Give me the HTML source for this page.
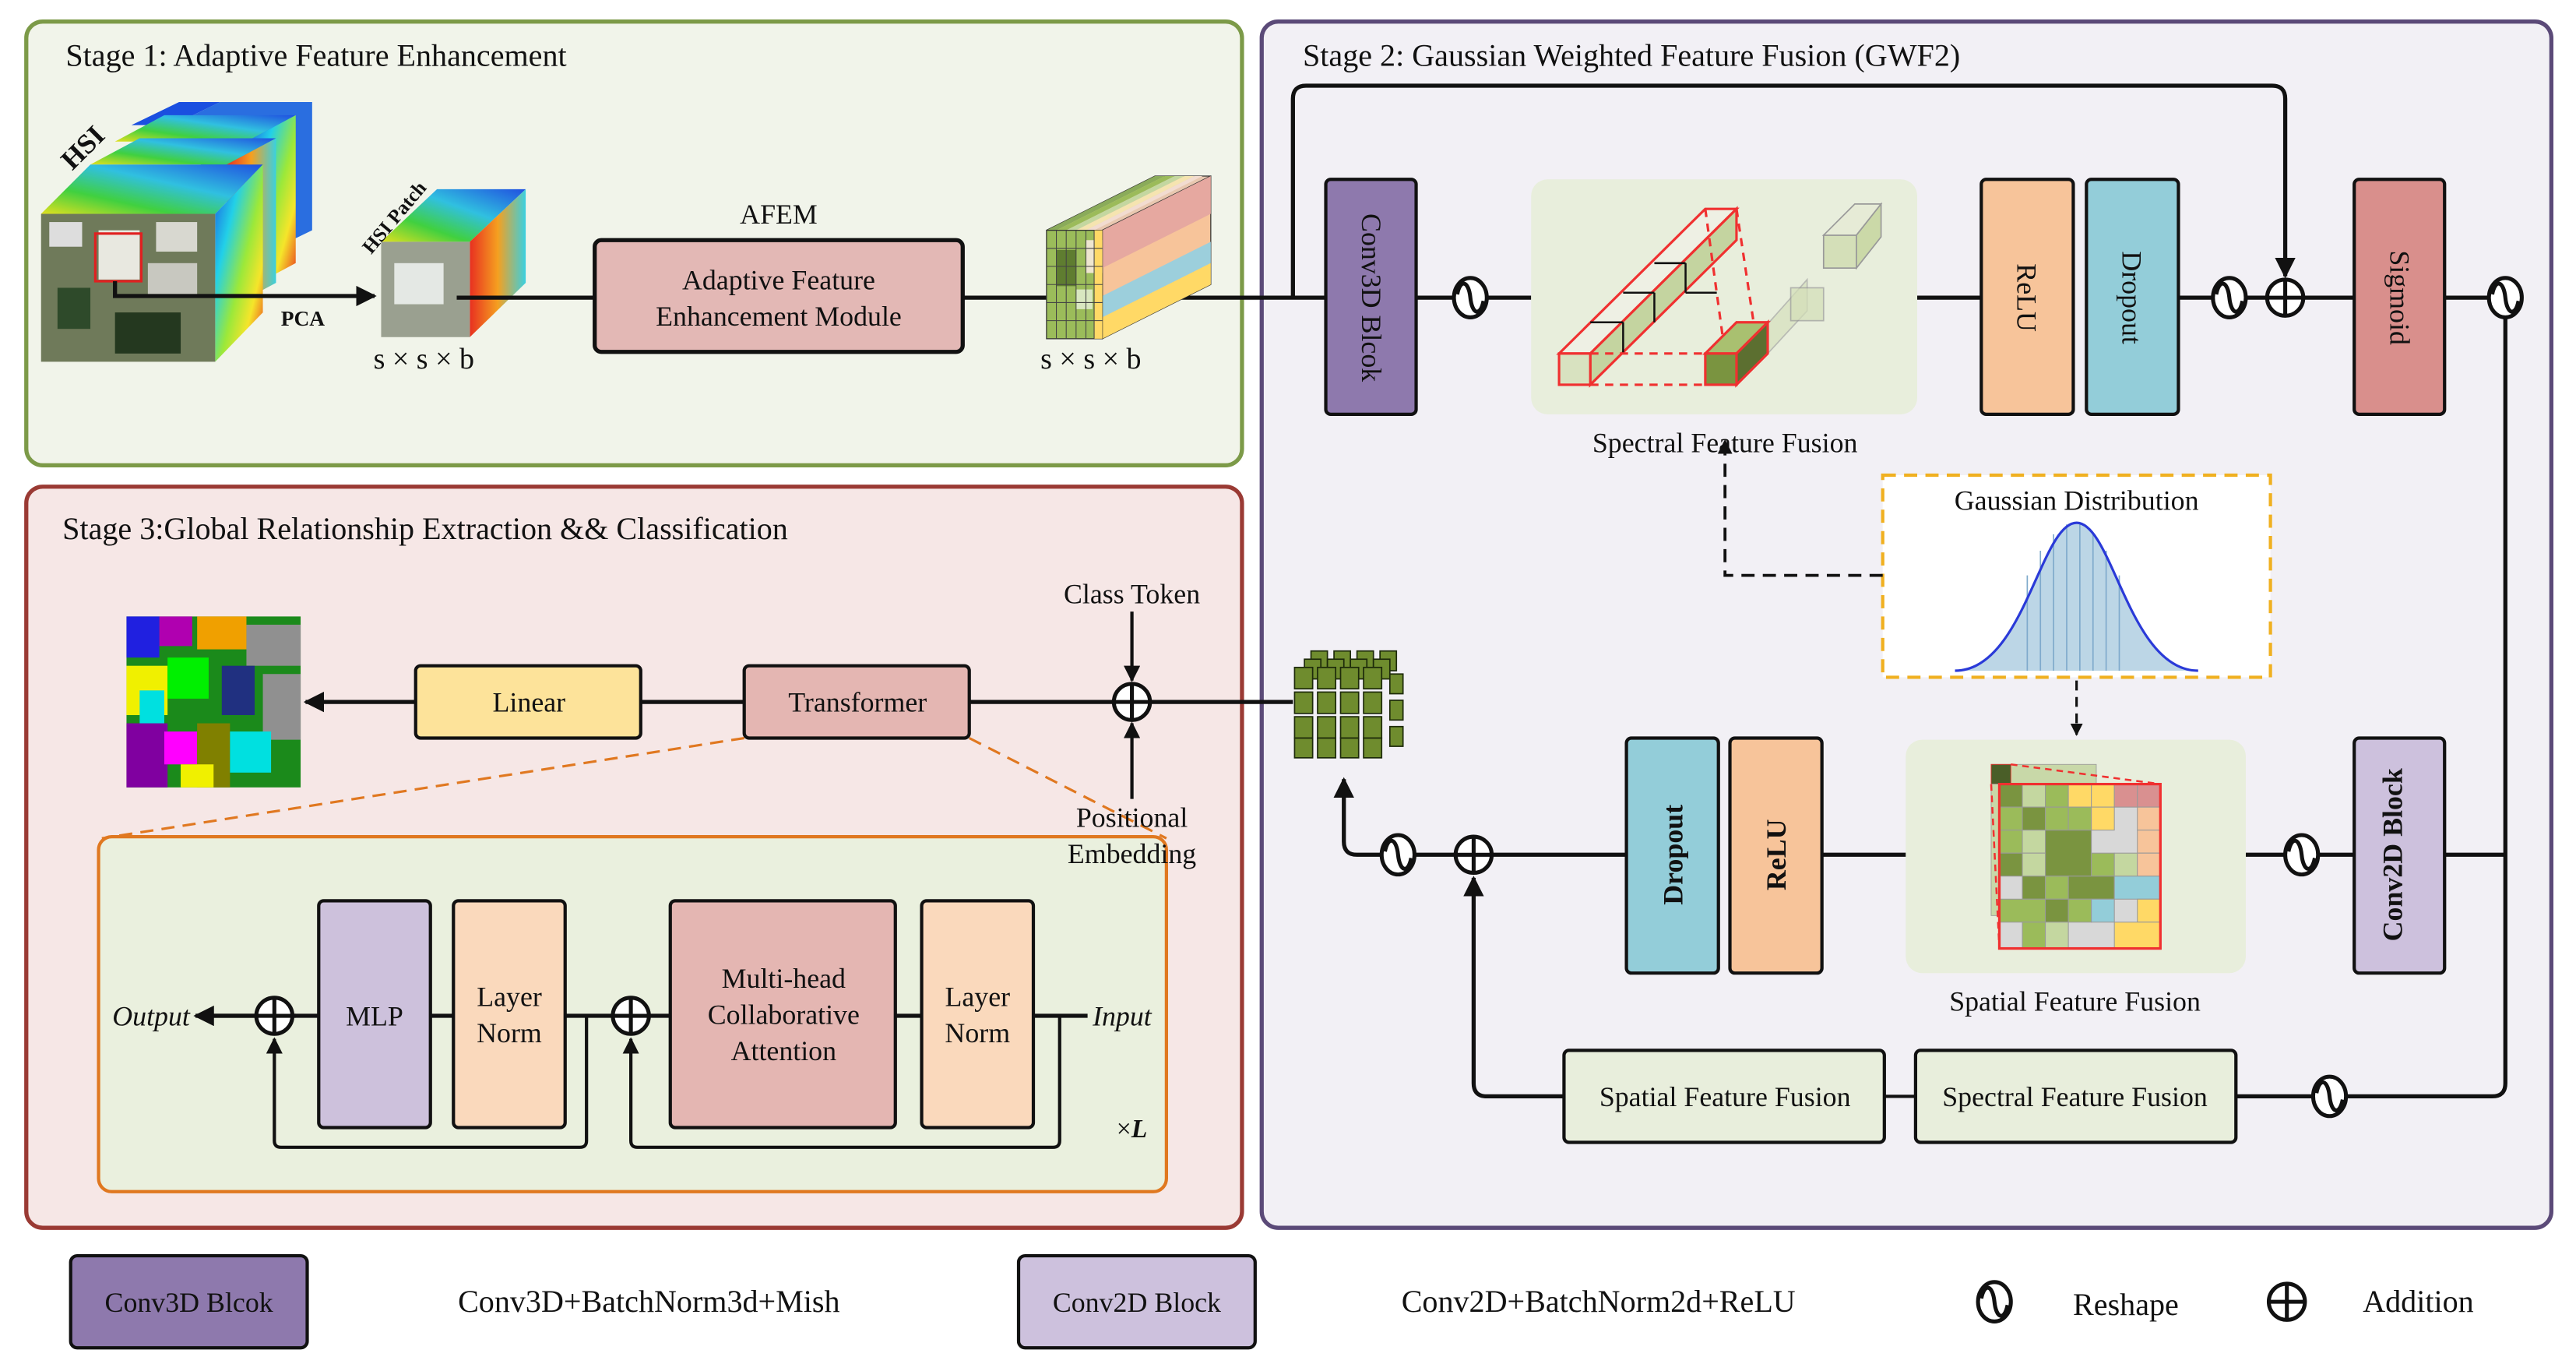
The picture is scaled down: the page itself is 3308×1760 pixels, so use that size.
<!DOCTYPE html>
<html><head><meta charset="utf-8"><style>
html,body{margin:0;padding:0;background:#fff}
svg{display:block;font-family:"Liberation Serif","DejaVu Serif",serif}
svg text{font-family:"Liberation Serif","DejaVu Serif",serif;fill:#111}
</style></head><body>
<svg width="3308" height="1760" viewBox="0 0 1568 834" xmlns="http://www.w3.org/2000/svg" font-family="'Liberation Serif', 'DejaVu Serif', serif">
<defs>
<marker id="ar" viewBox="0 0 10 10" refX="9" refY="5" markerWidth="5" markerHeight="5" orient="auto"><path d="M0,0 L10,5 L0,10 z" fill="#111"/></marker>
<linearGradient id="rb" x1="0" y1="0" x2="1" y2="1"><stop offset="0" stop-color="#1a4fe0"/><stop offset=".3" stop-color="#22d0e8"/><stop offset=".55" stop-color="#9be83a"/><stop offset=".75" stop-color="#f5e52a"/><stop offset="1" stop-color="#e8281e"/></linearGradient>
<linearGradient id="rb2" x1="0" y1="1" x2="1" y2="0"><stop offset="0" stop-color="#e0e020"/><stop offset=".3" stop-color="#40d040"/><stop offset=".6" stop-color="#30c0e0"/><stop offset="1" stop-color="#2050e0"/></linearGradient>
<linearGradient id="rb3" x1="0" y1="0" x2="1" y2="0"><stop offset="0" stop-color="#e83020"/><stop offset=".5" stop-color="#f5a020"/><stop offset="1" stop-color="#3ad0e0"/></linearGradient>
<g id="rs"><ellipse cx="0" cy="0" rx="10" ry="12" fill="#fff" stroke="#111" stroke-width="2.4"/><path d="M-8,-2 C-6,-12 -1,-10 0,0 C1,10 6,12 8,2" fill="none" stroke="#111" stroke-width="2.4"/></g>
<g id="ad"><circle cx="0" cy="0" r="11" fill="#fff" stroke="#111" stroke-width="2.4"/><path d="M-11,0 H11 M0,-11 V11" stroke="#111" stroke-width="2.4"/></g>
</defs>

<rect x="16" y="13" width="740" height="270" rx="10" fill="#f1f4ea" stroke="#7c9a48" stroke-width="2.5"/>
<rect x="16" y="296" width="740" height="451" rx="10" fill="#f6e7e6" stroke="#9a3a34" stroke-width="2.5"/>
<rect x="768" y="13" width="785" height="734" rx="10" fill="#f2f0f5" stroke="#5b4a78" stroke-width="2.5"/>

<text x="40" y="40" font-size="19">Stage 1: Adaptive Feature Enhancement</text>
<text x="38" y="328" font-size="19">Stage 3:Global Relationship Extraction &amp;&amp; Classification</text>
<text x="793" y="40" font-size="19">Stage 2: Gaussian Weighted Feature Fusion (GWF2)</text>

<polygon points="80,76 109,62 134,62 105,76" fill="#1a4fe0"/>
<polygon points="105,76 134,62 190,62 190,140 161,154" fill="#2a6ee0"/>
<polygon points="70,86 100,70 180,70 150,86" fill="url(#rb2)"/>
<polygon points="150,86 180,70 180,160 150,176" fill="url(#rb)"/>
<polygon points="55,100 85,84 168,84 138,100" fill="url(#rb2)"/>
<polygon points="138,100 168,84 168,172 138,188" fill="url(#rb3)"/>
<polygon points="25,130 55,100 160,100 131,130" fill="url(#rb2)"/>
<polygon points="131,130 160,100 160,190 131,220" fill="url(#rb)"/>
<rect x="25" y="130" width="106" height="90" fill="#6f7a5a"/>
<rect x="30" y="135" width="20" height="15" fill="#ddd"/><rect x="60" y="140" width="25" height="30" fill="#e8e8e0"/><rect x="90" y="160" width="30" height="20" fill="#c8c8c0"/><rect x="35" y="175" width="20" height="25" fill="#2e4a2a"/><rect x="70" y="190" width="40" height="25" fill="#24381f"/><rect x="95" y="135" width="25" height="18" fill="#d8d8d0"/>
<rect x="58" y="142" width="28" height="29" fill="none" stroke="#e02020" stroke-width="1.5"/>
<text x="0" y="0" font-size="17" font-weight="bold" transform="translate(44,104) rotate(-45)">HSI</text>
<path d="M70,171 V180 H228" fill="none" stroke="#111" stroke-width="2.5" marker-end="url(#ar)"/>
<text x="171" y="198" font-size="13" font-weight="bold">PCA</text>
<polygon points="232,147 266,115 320,115 286,147" fill="url(#rb2)"/>
<polygon points="286,147 320,115 320,172 286,205" fill="url(#rb3)"/>
<rect x="232" y="147" width="54" height="58" fill="#9aa090"/><rect x="240" y="160" width="30" height="25" fill="#e4e8e4"/>
<text font-size="12" font-weight="bold" transform="translate(226,155) rotate(-50)">HSI Patch</text>
<text x="258" y="224" font-size="18" text-anchor="middle">s × s × b</text>
<line x1="278" y1="181" x2="362" y2="181" stroke="#111" stroke-width="2.5"/>
<text x="474" y="136" font-size="17" text-anchor="middle">AFEM</text>
<rect x="362" y="146" width="224" height="68" rx="4" fill="#e3b8b5" stroke="#111" stroke-width="2.5"/>
<text x="474" y="176" font-size="17" text-anchor="middle">Adaptive Feature</text>
<text x="474" y="198" font-size="17" text-anchor="middle">Enhancement Module</text>
<line x1="586" y1="181" x2="807" y2="181" stroke="#111" stroke-width="2.5"/>
<polygon points="637,140 703,107 737,107 671,140" fill="#e8c8b0" stroke="#333" stroke-width=".6"/>
<polygon points="637,140 703,107 709,107 643,140" fill="#8aab5a"/>
<polygon points="643,140 709,107 715,107 649,140" fill="#9bbb5a"/>
<polygon points="649,140 715,107 721,107 655,140" fill="#c4d7a0"/>
<polygon points="655,140 721,107 727,107 661,140" fill="#f5e4b0"/>
<polygon points="661,140 727,107 732,107 666,140" fill="#f2dcd0"/>
<polygon points="671,140 737,107 737,173 671,206" fill="#f7c49a" stroke="#333" stroke-width=".6"/>
<polygon points="671,180 737,147 737,160 671,193" fill="#9ccfdc"/>
<polygon points="671,193 737,160 737,173 671,206" fill="#ffd966"/>
<polygon points="671,140 737,107 737,130 671,163" fill="#e6a8a0"/>
<rect x="637" y="140" width="34" height="66" fill="#9bbc5a" stroke="#333" stroke-width=".6"/>
<rect x="643" y="152" width="12" height="22" fill="#5f7d30"/><rect x="655" y="176" width="10" height="12" fill="#d9e7c0"/><rect x="661" y="146" width="10" height="20" fill="#efe6d0"/><rect x="666" y="140" width="5" height="66" fill="#ffd966"/>
<path d="M637,151 H671 M637,162 H671 M637,173 H671 M637,184 H671 M637,195 H671 M643,140 V206 M649,140 V206 M655,140 V206 M661,140 V206 M666,140 V206" stroke="#444" stroke-width=".5"/>
<text x="664" y="224" font-size="18" text-anchor="middle">s × s × b</text>

<path d="M787,181 V60 Q787,52 795,52 H1383 Q1391,52 1391,60 V168" fill="none" stroke="#111" stroke-width="2.5" marker-end="url(#ar)"/>
<rect x="807" y="109" width="55" height="143" rx="3" fill="#8e79ad" stroke="#111" stroke-width="2"/>
<text font-size="17" text-anchor="middle" transform="translate(829,181) rotate(90)">Conv3D Blcok</text>
<line x1="862" y1="181" x2="932" y2="181" stroke="#111" stroke-width="2.5"/>
<use href="#rs" x="895" y="181"/>
<rect x="932" y="109" width="235" height="143" rx="10" fill="#e8eedc"/>
<polygon points="949,215 1038,127 1057,127 968,215" fill="#eef0e4" stroke="#f03030" stroke-width="1.5"/>
<polygon points="968,215 1057,127 1057,146 968,234" fill="#c4d4a0" stroke="#f03030" stroke-width="1.5"/>
<rect x="949" y="215" width="19" height="19" fill="#d8e2c0" stroke="#f03030" stroke-width="1.5"/>
<path d="M968,196 H988 M988,178 H1007 M1007,160 H1026 M988,215 V196 M1007,196 V178 M1026,160 V178 M1026,178 H1045" stroke="#111" stroke-width="1.2" fill="none"/>
<path d="M968,234 H1038 M968,215 H1038 M1038,127 L1050,215 M1057,127 L1068,200" stroke="#f03030" stroke-width="1.5" stroke-dasharray="5,4" fill="none"/>
<polygon points="1057,215 1076,197 1100,170 1100,189 1076,215" fill="#d4dfb8" opacity=".6" stroke="#999" stroke-width=".8"/>
<rect x="1090" y="175" width="20" height="20" fill="#d4dfb8" opacity=".7" stroke="#999" stroke-width=".8"/>
<rect x="1110" y="143" width="20" height="20" fill="#d4dfb8" stroke="#999" stroke-width=".8"/>
<polygon points="1110,143 1129,124 1145,124 1130,143" fill="#e6ebd6" stroke="#999" stroke-width=".8"/>
<polygon points="1130,143 1145,124 1145,144 1130,163" fill="#cbd9a8" stroke="#999" stroke-width=".8"/>
<polygon points="1038,215 1057,196 1076,196 1057,215" fill="#a9c070" stroke="#f03030" stroke-width="1.5"/>
<polygon points="1057,215 1076,196 1076,215 1057,234" fill="#5c6f30" stroke="#f03030" stroke-width="1.5"/>
<rect x="1038" y="215" width="19" height="19" fill="#7a9440" stroke="#f03030" stroke-width="1.5"/>
<text x="1050" y="275" font-size="17" text-anchor="middle">Spectral Feature Fusion</text>
<line x1="1167" y1="181" x2="1206" y2="181" stroke="#111" stroke-width="2.5"/>
<rect x="1206" y="109" width="56" height="143" rx="3" fill="#f7c49a" stroke="#111" stroke-width="2"/>
<text font-size="17" text-anchor="middle" transform="translate(1228,181) rotate(90)">ReLU</text>
<rect x="1270" y="109" width="56" height="143" rx="3" fill="#93cdd9" stroke="#111" stroke-width="2"/>
<text font-size="17" text-anchor="middle" transform="translate(1292,181) rotate(90)">Dropout</text>
<line x1="1326" y1="181" x2="1433" y2="181" stroke="#111" stroke-width="2.5"/>
<use href="#rs" x="1357" y="181"/>
<use href="#ad" x="1391" y="181"/>
<rect x="1433" y="109" width="55" height="143" rx="3" fill="#d98f8c" stroke="#111" stroke-width="2"/>
<text font-size="17" text-anchor="middle" transform="translate(1455,181) rotate(90)">Sigmoid</text>
<path d="M1488,181 H1525 V659 Q1525,667 1517,667 H1361" fill="none" stroke="#111" stroke-width="2.5"/>
<use href="#rs" x="1525" y="181"/>

<rect x="1146" y="289" width="236" height="123" fill="#fff" stroke="#f0b020" stroke-width="2" stroke-dasharray="8,5"/>
<text x="1264" y="310" font-size="17" text-anchor="middle">Gaussian Distribution</text>
<path d="M1190,408 C1232,408 1242,318 1264,318 C1286,318 1296,408 1338,408 Z" fill="#bcd6e6" stroke="none"/>
<path d="M1234,408 V350 M1242,408 V335 M1250,408 V325 M1258,408 V319 M1266,408 V319 M1274,408 V325 M1282,408 V335 M1290,408 V350" stroke="#7faacc" stroke-width=".8"/>
<path d="M1190,408 C1232,408 1242,318 1264,318 C1286,318 1296,408 1338,408" fill="none" stroke="#2a3ad8" stroke-width="1.5"/>
<path d="M1146,350 H1050 V268" fill="none" stroke="#111" stroke-width="1.8" stroke-dasharray="8,5" marker-end="url(#ar)"/>
<path d="M1264,414 V447" fill="none" stroke="#111" stroke-width="1.5" stroke-dasharray="6,4" marker-end="url(#ar)"/>

<path d="M1525,520 H1488" stroke="#111" stroke-width="2.5"/>
<rect x="1433" y="449" width="55" height="143" rx="3" fill="#cdc1dd" stroke="#111" stroke-width="2"/>
<text font-size="17" text-anchor="middle" transform="translate(1462,520) rotate(-90)" font-weight="bold">Conv2D Block</text>
<line x1="1367" y1="520" x2="1433" y2="520" stroke="#111" stroke-width="2.5"/>
<use href="#rs" x="1401" y="520"/>
<rect x="1160" y="450" width="207" height="142" rx="10" fill="#e8eedc"/>
<g stroke="#999" stroke-width=".4">
<rect x="1212" y="465" width="64" height="26" fill="#c8d8a8"/>
<rect x="1212" y="465" width="12" height="12" fill="#4a5e28" stroke="#f03030"/>
<rect x="1212" y="477" width="8" height="80" fill="#c8d8a8"/>
<rect x="1217" y="477" width="98" height="100" fill="#d8d8d8" stroke="#f03030" stroke-width="1.5"/>
</g>
<g stroke="#999" stroke-width=".5">
<rect x="1217" y="477" width="14" height="14" fill="#7a9440"/><rect x="1231" y="477" width="14" height="14" fill="#c4d7a0"/><rect x="1245" y="477" width="14" height="14" fill="#9bbb5a"/><rect x="1259" y="477" width="14" height="14" fill="#ffd966"/><rect x="1273" y="477" width="14" height="14" fill="#ffd966"/><rect x="1287" y="477" width="14" height="14" fill="#d99090"/><rect x="1301" y="477" width="14" height="14" fill="#d99090"/>
<rect x="1217" y="491" width="14" height="14" fill="#9bbb5a"/><rect x="1231" y="491" width="14" height="14" fill="#7a9440"/><rect x="1245" y="491" width="14" height="14" fill="#9bbb5a"/><rect x="1259" y="491" width="14" height="14" fill="#9bbb5a"/><rect x="1273" y="491" width="14" height="14" fill="#ffd966"/><rect x="1301" y="491" width="14" height="14" fill="#f7c49a"/>
<rect x="1217" y="505" width="14" height="14" fill="#9bbb5a"/><rect x="1231" y="505" width="14" height="14" fill="#c4d7a0"/><rect x="1245" y="505" width="28" height="28" fill="#7a9440"/><rect x="1301" y="505" width="14" height="14" fill="#f7c49a"/>
<rect x="1217" y="519" width="14" height="14" fill="#7a9440"/><rect x="1231" y="519" width="14" height="14" fill="#c4d7a0"/><rect x="1273" y="519" width="14" height="14" fill="#9bbb5a"/><rect x="1287" y="519" width="14" height="14" fill="#c4d7a0"/><rect x="1301" y="519" width="14" height="14" fill="#f7c49a"/>
<rect x="1231" y="533" width="14" height="14" fill="#7a9440"/><rect x="1245" y="533" width="14" height="14" fill="#9bbb5a"/><rect x="1259" y="533" width="28" height="14" fill="#7a9440"/><rect x="1287" y="533" width="28" height="14" fill="#93cdd9"/>
<rect x="1217" y="547" width="28" height="14" fill="#9bbb5a"/><rect x="1245" y="547" width="14" height="14" fill="#7a9440"/><rect x="1259" y="547" width="14" height="14" fill="#9bbb5a"/><rect x="1273" y="547" width="14" height="14" fill="#93cdd9"/><rect x="1301" y="547" width="14" height="14" fill="#ffd966"/>
<rect x="1231" y="561" width="14" height="16" fill="#9bbb5a"/><rect x="1245" y="561" width="14" height="16" fill="#c4d7a0"/><rect x="1287" y="561" width="28" height="16" fill="#ffd966"/>
</g>
<rect x="1217" y="477" width="98" height="100" fill="none" stroke="#f03030" stroke-width="1.5"/>
<path d="M1224,465 L1315,477 M1212,477 L1217,577" stroke="#f03030" stroke-width="1.2" stroke-dasharray="4,3"/>
<text x="1263" y="615" font-size="17" text-anchor="middle">Spatial Feature Fusion</text>
<line x1="1109" y1="520" x2="1160" y2="520" stroke="#111" stroke-width="2.5"/>
<rect x="1053" y="449" width="56" height="143" rx="3" fill="#f7c49a" stroke="#111" stroke-width="2"/>
<text font-size="17" text-anchor="middle" transform="translate(1087,520) rotate(-90)" font-weight="bold">ReLU</text>
<rect x="990" y="449" width="56" height="143" rx="3" fill="#93cdd9" stroke="#111" stroke-width="2"/>
<text font-size="17" text-anchor="middle" transform="translate(1024,520) rotate(-90)" font-weight="bold">Dropout</text>
<path d="M990,520 H826 Q818,520 818,512 V474" fill="none" stroke="#111" stroke-width="2.5" marker-end="url(#ar)"/>
<use href="#ad" x="897" y="520"/>
<use href="#rs" x="851" y="520"/>
<path d="M952,667 H905 Q897,667 897,659 V534" fill="none" stroke="#111" stroke-width="2.5" marker-end="url(#ar)"/>
<rect x="952" y="639" width="195" height="56" rx="3" fill="#e8eedc" stroke="#111" stroke-width="2"/>
<text x="1050" y="673" font-size="17" text-anchor="middle">Spatial Feature Fusion</text>
<line x1="1147" y1="667" x2="1166" y2="667" stroke="#111" stroke-width="2"/>
<rect x="1166" y="639" width="195" height="56" rx="3" fill="#e8eedc" stroke="#111" stroke-width="2"/>
<text x="1263" y="673" font-size="17" text-anchor="middle">Spectral Feature Fusion</text>
<use href="#rs" x="1418" y="667"/>

<g fill="#6f8c2e" stroke="#1d2a0a" stroke-width=".8">
<rect x="798" y="396" width="10" height="12"/><rect x="812" y="396" width="10" height="12"/><rect x="826" y="396" width="10" height="12"/><rect x="840" y="396" width="10" height="12"/>
<rect x="794" y="401" width="10" height="12"/><rect x="808" y="401" width="10" height="12"/><rect x="822" y="401" width="10" height="12"/><rect x="836" y="401" width="10" height="12"/>
<rect x="846" y="410" width="8" height="12"/><rect x="846" y="426" width="8" height="12"/><rect x="846" y="442" width="8" height="12"/>
<rect x="788" y="406" width="11" height="13"/><rect x="802" y="406" width="11" height="13"/><rect x="816" y="406" width="11" height="13"/><rect x="830" y="406" width="11" height="13"/>
<rect x="788" y="421" width="11" height="13"/><rect x="802" y="421" width="11" height="13"/><rect x="816" y="421" width="11" height="13"/><rect x="830" y="421" width="11" height="13"/>
<rect x="788" y="436" width="11" height="13"/><rect x="802" y="436" width="11" height="13"/><rect x="816" y="436" width="11" height="13"/><rect x="830" y="436" width="11" height="13"/>
<rect x="788" y="449" width="11" height="12"/><rect x="802" y="449" width="11" height="12"/><rect x="816" y="449" width="11" height="12"/><rect x="830" y="449" width="11" height="12"/>
</g>

<rect x="77" y="375" width="106" height="104" fill="#1b8a1b"/>
<rect x="77" y="375" width="20" height="25" fill="#2020e0"/><rect x="97" y="375" width="20" height="18" fill="#b000b0"/><rect x="120" y="375" width="30" height="20" fill="#f0a000"/><rect x="150" y="380" width="33" height="25" fill="#909090"/>
<rect x="77" y="405" width="25" height="30" fill="#f0f000"/><rect x="102" y="400" width="25" height="25" fill="#00f000"/><rect x="135" y="405" width="20" height="30" fill="#203080"/><rect x="160" y="410" width="23" height="40" fill="#909090"/>
<rect x="77" y="440" width="25" height="39" fill="#8000a0"/><rect x="100" y="445" width="20" height="20" fill="#ff00ff"/><rect x="120" y="440" width="20" height="39" fill="#808000"/><rect x="140" y="445" width="25" height="25" fill="#00e0e0"/><rect x="110" y="465" width="20" height="14" fill="#f0f000"/><rect x="85" y="420" width="15" height="20" fill="#00e0e0"/>
<line x1="253" y1="427" x2="186" y2="427" stroke="#111" stroke-width="2.5" marker-end="url(#ar)"/>
<rect x="253" y="405" width="137" height="44" rx="3" fill="#fde39a" stroke="#111" stroke-width="2"/>
<text x="322" y="433" font-size="17" text-anchor="middle">Linear</text>
<line x1="390" y1="427" x2="453" y2="427" stroke="#111" stroke-width="2.5"/>
<rect x="453" y="405" width="137" height="44" rx="3" fill="#e4b6b2" stroke="#111" stroke-width="2"/>
<text x="522" y="433" font-size="17" text-anchor="middle">Transformer</text>
<line x1="590" y1="427" x2="787" y2="427" stroke="#111" stroke-width="2.5"/>
<use href="#ad" x="689" y="427"/>
<text x="689" y="367" font-size="17" text-anchor="middle">Class Token</text>
<line x1="689" y1="372" x2="689" y2="414" stroke="#111" stroke-width="2" marker-end="url(#ar)"/>
<line x1="689" y1="486" x2="689" y2="440" stroke="#111" stroke-width="2" marker-end="url(#ar)"/>
<path d="M453,449 L62,510 M590,449 L710,510" stroke="#e07820" stroke-width="1.5" stroke-dasharray="8,5"/>
<rect x="60" y="509" width="650" height="216" rx="8" fill="#eaf0de" stroke="#e07820" stroke-width="2"/>
<text x="689" y="503" font-size="17" text-anchor="middle">Positional</text>
<text x="689" y="525" font-size="17" text-anchor="middle">Embedding</text>
<rect x="194" y="548" width="68" height="138" rx="3" fill="#cdc1dc" stroke="#111" stroke-width="2"/>
<text x="228" y="624" font-size="17" text-anchor="middle">MLP</text>
<rect x="276" y="548" width="68" height="138" rx="3" fill="#fad9bc" stroke="#111" stroke-width="2"/>
<text x="310" y="612" font-size="17" text-anchor="middle">Layer</text><text x="310" y="634" font-size="17" text-anchor="middle">Norm</text>
<rect x="408" y="548" width="137" height="138" rx="3" fill="#e4b6b2" stroke="#111" stroke-width="2"/>
<text x="477" y="601" font-size="17" text-anchor="middle">Multi-head</text><text x="477" y="623" font-size="17" text-anchor="middle">Collaborative</text><text x="477" y="645" font-size="17" text-anchor="middle">Attention</text>
<rect x="561" y="548" width="68" height="138" rx="3" fill="#fad9bc" stroke="#111" stroke-width="2"/>
<text x="595" y="612" font-size="17" text-anchor="middle">Layer</text><text x="595" y="634" font-size="17" text-anchor="middle">Norm</text>
<path d="M662,618 H629 M561,618 H545 M408,618 H344 M276,618 H262 M194,618 H120" fill="none" stroke="#111" stroke-width="2.5"/>
<path d="M180,618 H119" stroke="#111" stroke-width="2.5" marker-end="url(#ar)"/>
<use href="#ad" x="167" y="618"/>
<use href="#ad" x="384" y="618"/>
<path d="M645,618 V694 Q645,698 641,698 H388 Q384,698 384,694 V632" fill="none" stroke="#111" stroke-width="2" marker-end="url(#ar)"/>
<path d="M357,618 V694 Q357,698 353,698 H171 Q167,698 167,694 V632" fill="none" stroke="#111" stroke-width="2" marker-end="url(#ar)"/>
<text x="92" y="624" font-size="17" font-style="italic" text-anchor="middle">Output</text>
<text x="683" y="624" font-size="17" font-style="italic" text-anchor="middle">Input</text>
<text x="689" y="692" font-size="16" text-anchor="middle">×<tspan font-style="italic" font-weight="bold">L</tspan></text>

<rect x="43" y="764" width="144" height="56" rx="4" fill="#8e79ad" stroke="#111" stroke-width="2"/>
<text x="115" y="798" font-size="17" text-anchor="middle">Conv3D Blcok</text>
<text x="395" y="798" font-size="19" text-anchor="middle">Conv3D+BatchNorm3d+Mish</text>
<rect x="620" y="764" width="144" height="56" rx="4" fill="#cdc1dd" stroke="#111" stroke-width="2"/>
<text x="692" y="798" font-size="17" text-anchor="middle">Conv2D Block</text>
<text x="973" y="798" font-size="19" text-anchor="middle">Conv2D+BatchNorm2d+ReLU</text>
<use href="#rs" x="1214" y="792"/>
<text x="1294" y="800" font-size="19" text-anchor="middle">Reshape</text>
<use href="#ad" x="1392" y="792"/>
<text x="1472" y="798" font-size="19" text-anchor="middle">Addition</text>
</svg>
</body></html>
